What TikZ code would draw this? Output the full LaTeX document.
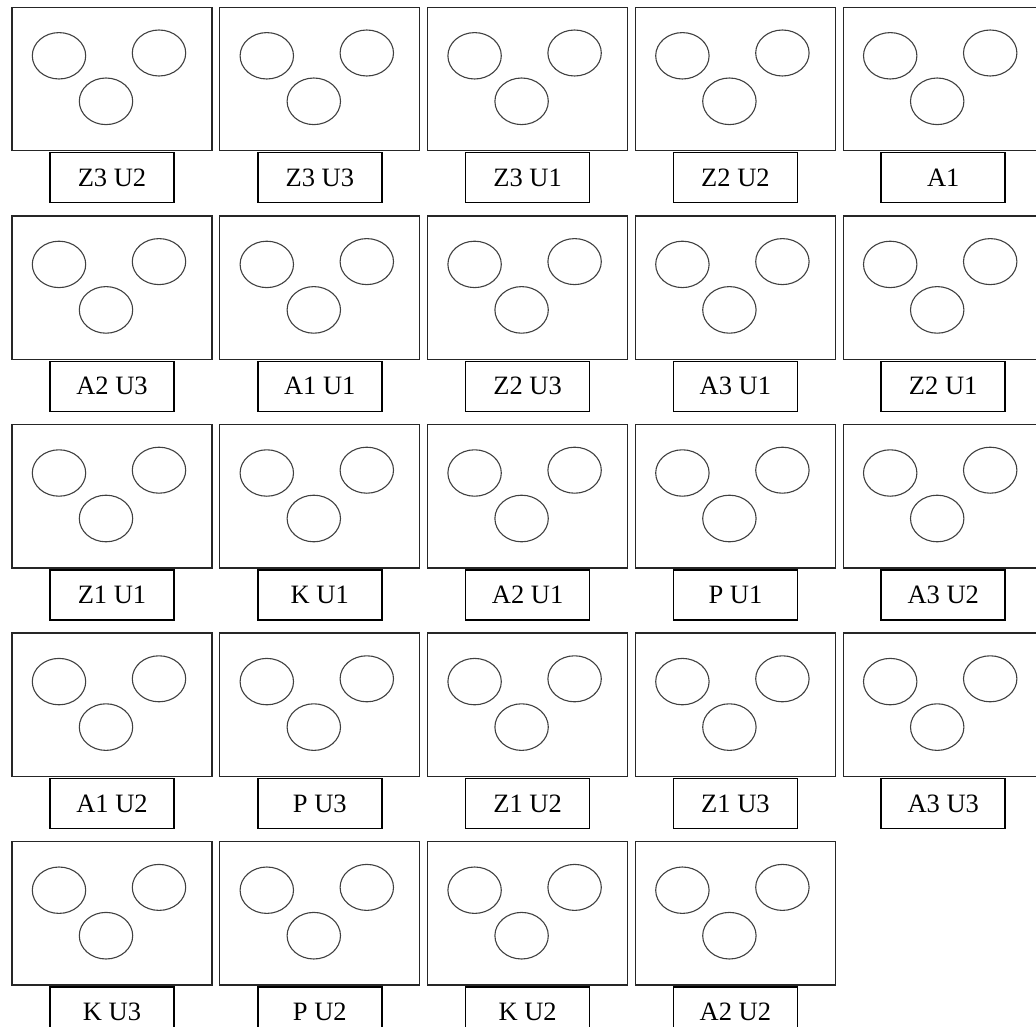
\documentclass[tikz,border=0pt]{standalone}
\usepackage{fontspec}
\setmainfont{Liberation Serif}
\begin{document}
\begin{tikzpicture}[x=1pt,y=-1pt,
  panel/.style={draw=black!85,line width=1.3pt,minimum width=200pt,minimum height=143.4pt,inner sep=0pt,rectangle},
  tag/.style={draw=black,line width=1.5pt,minimum width=124pt,minimum height=50pt,inner sep=0pt,rectangle,font=\fontsize{26.5}{30}\selectfont},
  ring/.style={draw=black!75,line width=1.1pt}]
\clip (0,0) rectangle (1036,1027);
\foreach \lab [count=\i from 0] in {Z3 U2,Z3 U3,Z3 U1,Z2 U2,A1,
  A2 U3,A1 U1,Z2 U3,A3 U1,Z2 U1,
  Z1 U1,K U1,A2 U1,P U1,A3 U2,
  A1 U2,P U3,Z1 U2,Z1 U3,A3 U3,
  K U3,P U2,K U2,A2 U2}{
  \pgfmathtruncatemacro{\r}{int(\i/5)}
  \pgfmathtruncatemacro{\c}{mod(\i,5)}
  \pgfmathsetmacro{\px}{112+207.8*\c}
  \pgfmathsetmacro{\py}{79+208.6*\r}
  \node[panel] (p\i) at (\px,\py) {};
  \node[tag] (l\i) at (\px,\py+98.7) {\lab};
  \draw[ring] (\px-53,\py-23.2) ellipse [x radius=26.7pt,y radius=23.2pt];
  \draw[ring] (\px+47,\py-26) ellipse [x radius=26.7pt,y radius=23pt];
  \draw[ring] (\px-6,\py+22.3) ellipse [x radius=26.7pt,y radius=23.3pt];
}
\end{tikzpicture}
\end{document}
